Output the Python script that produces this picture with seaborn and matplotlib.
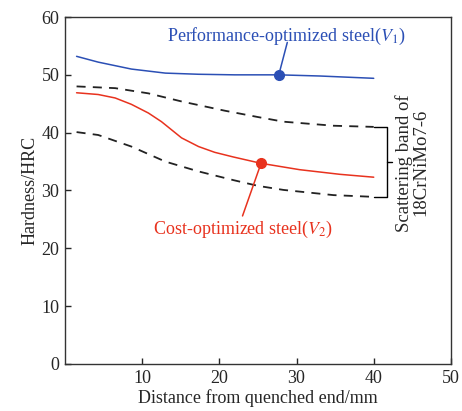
import matplotlib
matplotlib.use("Agg")
import matplotlib.pyplot as plt
import seaborn as sns

# values
v1_x = [1.5, 4.3, 8.6, 13, 17.3, 22, 27.7, 33, 40]
v1_y = [53.2, 52.2, 51.0, 50.3, 50.1, 50.0, 50.0, 49.8, 49.4]
v2_x = [1.5, 4.3, 6.5, 8.6, 10.8, 12.5, 13.8, 15.1, 17.3, 19.4, 21.8, 25.4, 30.4, 35.6, 40]
v2_y = [46.9, 46.6, 46.0, 44.9, 43.4, 41.9, 40.5, 39.1, 37.6, 36.6, 35.8, 34.7, 33.6, 32.8, 32.3]
band_hi_x = [1.5, 6.5, 10.8, 15.1, 20.7, 25, 28.3, 34.8, 40]
band_hi_y = [48.0, 47.7, 46.8, 45.4, 43.8, 42.7, 41.9, 41.2, 41.0]
band_lo_x = [1.5, 4.3, 8.6, 13, 17.3, 21.8, 25, 28.3, 34.8, 40]
band_lo_y = [40.1, 39.6, 37.6, 35.0, 33.3, 31.8, 30.8, 30.1, 29.2, 28.9]
v1_mark = (27.7, 50.0)
v2_mark = (25.4, 34.7)

sns.set_style("ticks")
plt.rcParams["font.family"] = ["Liberation Serif", "DejaVu Serif"]
plt.rcParams["mathtext.fontset"] = "stix"

blue = "#2b4fb5"
red = "#e8321e"

fig = plt.figure(figsize=(4.62, 4.11), dpi=100)
ax = fig.add_axes([0.1407, 0.1144, 0.8353, 0.8442])

sns.lineplot(x=v1_x, y=v1_y, ax=ax, color=blue, lw=1.1, sort=False, estimator=None)
sns.lineplot(x=v2_x, y=v2_y, ax=ax, color=red, lw=1.1, sort=False, estimator=None)
sns.lineplot(x=band_hi_x, y=band_hi_y, ax=ax, color="#222222", lw=1.3, sort=False, estimator=None)
sns.lineplot(x=band_lo_x, y=band_lo_y, ax=ax, color="#222222", lw=1.3, sort=False, estimator=None)
for ln in ax.lines[2:4]:
    ln.set_linestyle((0, (5, 4)))

ax.plot(*v1_mark, "o", color=blue, ms=7)
ax.plot(*v2_mark, "o", color=red, ms=7)

# leaders and labels
ax.plot([v1_mark[0], 28.8], [v1_mark[1], 55.6], color=blue, lw=1.1)
ax.text(28.7, 56.6, r"Performance-optimized steel($V_1$)", color=blue,
        fontsize=13, ha="center", va="center")
ax.plot([v2_mark[0], 23.0], [v2_mark[1], 25.6], color=red, lw=1.1)
ax.text(23.0, 23.2, r"Cost-optimized steel($V_2$)", color=red,
        fontsize=13, ha="center", va="center")

# bracket for the band
bx = 41.7
ax.plot([40, bx, bx, 40], [41.0, 41.0, 28.9, 28.9], color="black", lw=1.0)
ax.plot([bx, 42.4], [34.9, 34.9], color="black", lw=1.0)
ax.text(45.0, 34.8, "Scattering band of\n18CrNiMo7-6", rotation=90,
        fontsize=13.5, ha="center", va="center", linespacing=1.0)

ax.set_xlim(0, 50)
ax.set_ylim(0, 60)
ax.set_xticks([10, 20, 30, 40, 50])
ax.set_yticks([0, 10, 20, 30, 40, 50, 60])
ax.tick_params(direction="in", labelsize=13, length=4, width=1, pad=4)
for s in ax.spines.values():
    s.set_linewidth(1.0)
    s.set_color("#333333")
ax.set_xlabel("Distance from quenched end/mm", fontsize=13, labelpad=2)
ax.set_ylabel("Hardness/HRC", fontsize=13, labelpad=2)

fig.savefig("out.png", dpi=100)
